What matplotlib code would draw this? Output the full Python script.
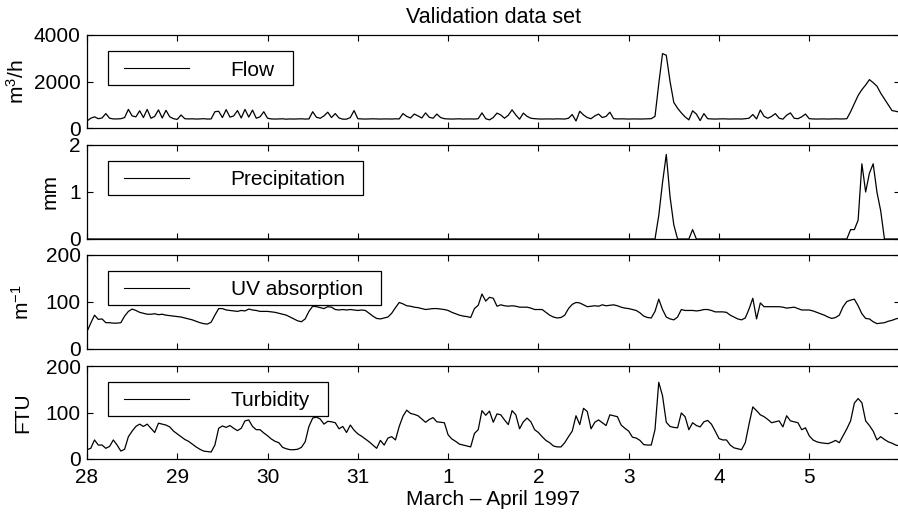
import numpy as np
import matplotlib
matplotlib.use('Agg')
import matplotlib.pyplot as plt
from matplotlib.patches import Rectangle

plt.rcParams['font.family'] = ['Liberation Sans', 'DejaVu Sans']
plt.rcParams['font.size'] = 15
plt.rcParams['mathtext.fontset'] = 'custom'
plt.rcParams['mathtext.rm'] = 'Liberation Sans'
plt.rcParams['mathtext.it'] = 'Liberation Sans'
plt.rcParams['mathtext.default'] = 'regular'

# hourly samples starting 28 March 00:00
flow = [
    300, 420, 480, 400, 430, 620, 420, 390, 390, 400, 450, 800, 520, 480, 740, 450, 800, 420, 500, 780, 430, 760, 480, 400,
    370, 560, 400, 390, 395, 385, 390, 400, 385, 390, 700, 720, 450, 790, 470, 520, 750, 430, 800, 470, 770, 420, 480, 700,
    420, 390, 385, 390, 395, 380, 390, 385, 390, 395, 385, 390, 700, 460, 420, 520, 680, 450, 620, 430, 380, 380, 450, 750,
    400, 390, 385, 390, 395, 390, 385, 390, 390, 385, 395, 390, 620, 500, 430, 600, 520, 430, 650, 460, 420, 600, 450, 400,
    390, 385, 390, 395, 385, 390, 390, 385, 400, 650, 400, 350, 450, 640, 560, 420, 550, 780, 560, 380, 640, 500, 420, 400,
    390, 385, 390, 390, 385, 395, 390, 385, 420, 580, 300, 720, 560, 450, 400, 520, 600, 450, 500, 680, 400, 390, 395, 390,
    385, 390, 390, 385, 390, 395, 400, 500, 1900, 3200, 3130, 2000, 1100, 850, 650, 480, 350, 740, 600, 320, 620, 400, 390, 385,
    390, 395, 390, 385, 390, 390, 385, 400, 420, 580, 390, 770, 500, 420, 500, 620, 420, 380, 550, 650, 420, 400, 480, 600,
    400, 390, 385, 390, 390, 385, 390, 395, 390, 390, 400, 700, 1050, 1400, 1650, 1850, 2080, 1950, 1800, 1500, 1250, 1000, 750, 720,
    680,
]

precip = [
    0, 0, 0, 0, 0, 0, 0, 0, 0, 0, 0, 0, 0, 0, 0, 0, 0, 0, 0, 0, 0, 0, 0, 0,
    0, 0, 0, 0, 0, 0, 0, 0, 0, 0, 0, 0, 0, 0, 0, 0, 0, 0, 0, 0, 0, 0, 0, 0,
    0, 0, 0, 0, 0, 0, 0, 0, 0, 0, 0, 0, 0, 0, 0, 0, 0, 0, 0, 0, 0, 0, 0, 0,
    0, 0, 0, 0, 0, 0, 0, 0, 0, 0, 0, 0, 0, 0, 0, 0, 0, 0, 0, 0, 0, 0, 0, 0,
    0, 0, 0, 0, 0, 0, 0, 0, 0, 0, 0, 0, 0, 0, 0, 0, 0, 0, 0, 0, 0, 0, 0, 0,
    0, 0, 0, 0, 0, 0, 0, 0, 0, 0, 0, 0, 0, 0, 0, 0, 0, 0, 0, 0, 0, 0, 0, 0,
    0, 0, 0, 0, 0, 0, 0, 0, 0.5, 1.2, 1.8, 0.9, 0.3, 0, 0, 0, 0, 0.2, 0, 0, 0, 0, 0, 0,
    0, 0, 0, 0, 0, 0, 0, 0, 0, 0, 0, 0, 0, 0, 0, 0, 0, 0, 0, 0, 0, 0, 0, 0,
    0, 0, 0, 0, 0, 0, 0, 0, 0, 0, 0, 0.2, 0.2, 0.4, 1.6, 1.0, 1.4, 1.6, 1.0, 0.6, 0, 0, 0, 0,
    0,
]

uv = [
    37, 55, 72, 63, 64, 56, 56, 55, 55, 56, 70, 80, 85, 82, 78, 76, 74, 74, 75, 73, 74, 72, 71, 70,
    69, 68, 66, 64, 62, 59, 56, 54, 53, 57, 72, 86, 86, 83, 82, 81, 80, 82, 81, 85, 83, 82, 80, 80,
    80, 79, 78, 76, 74, 72, 68, 64, 60, 58, 64, 80, 91, 90, 88, 86, 90, 89, 84, 83, 84, 83, 84, 83,
    82, 83, 82, 76, 70, 65, 64, 66, 68, 76, 88, 99, 96, 92, 91, 89, 88, 86, 84, 85, 86, 86, 85, 84,
    82, 78, 75, 72, 70, 69, 67, 86, 93, 117, 102, 110, 108, 91, 94, 92, 91, 92, 91, 89, 89, 89, 87, 84,
    84, 84, 78, 72, 68, 66, 67, 72, 86, 95, 99, 98, 94, 90, 91, 92, 91, 94, 92, 93, 94, 92, 89, 87,
    86, 84, 82, 77, 70, 67, 66, 80, 106, 84, 68, 64, 62, 68, 84, 82, 82, 82, 81, 82, 84, 84, 82, 79,
    79, 79, 78, 72, 68, 64, 62, 66, 85, 108, 64, 98, 90, 90, 90, 90, 90, 89, 87, 88, 89, 86, 83, 83,
    83, 81, 78, 75, 72, 68, 65, 67, 72, 90, 101, 104, 106, 92, 75, 65, 64, 58, 54, 55, 56, 59, 61, 64,
    66,
]

turbidity = [
    20, 23, 41, 30, 30, 23, 27, 41, 30, 17, 21, 48, 60, 70, 75, 70, 75, 66, 57, 77, 75, 73, 69, 60,
    54, 48, 42, 38, 32, 26, 21, 17, 16, 15, 30, 66, 71, 68, 72, 66, 61, 66, 82, 84, 70, 63, 63, 56,
    50, 43, 38, 35, 25, 22, 20, 20, 21, 25, 37, 70, 88, 90, 86, 75, 81, 80, 78, 65, 70, 57, 73, 62,
    54, 49, 43, 37, 30, 23, 40, 30, 45, 48, 41, 70, 92, 105, 98, 96, 93, 86, 79, 85, 89, 80, 79, 78,
    52, 43, 38, 32, 30, 28, 26, 55, 63, 104, 94, 103, 79, 97, 95, 84, 74, 104, 95, 65, 80, 88, 80, 63,
    57, 48, 40, 35, 28, 26, 26, 35, 48, 60, 93, 74, 109, 102, 65, 79, 84, 78, 72, 95, 93, 91, 73, 66,
    60, 47, 45, 40, 31, 30, 30, 63, 165, 136, 79, 70, 68, 67, 99, 91, 63, 78, 72, 69, 80, 83, 75, 60,
    44, 41, 41, 30, 24, 22, 20, 35, 75, 112, 104, 95, 91, 85, 78, 80, 82, 69, 93, 82, 80, 78, 63, 67,
    50, 41, 37, 35, 34, 33, 36, 40, 35, 50, 65, 82, 120, 130, 121, 82, 72, 60, 41, 48, 42, 37, 34, 30,
    28,
]

day_labels = ['28', '29', '30', '31', '1', '2', '3', '4', '5']

series = [
    ('Flow', flow, r'm$^3$/h', [0, 2000, 4000]),
    ('Precipitation', precip, 'mm', [0, 1, 2]),
    ('UV absorption', uv, r'm$^{-1}$', [0, 100, 200]),
    ('Turbidity', turbidity, 'FTU', [0, 100, 200]),
]

# panel edges in pixels (top, bottom) on a 898x520 canvas
W, H = 898, 520
rows = [(35, 128), (145, 239), (255, 349), (366, 459)]
left_px, right_px = 87, 899.5
# right edge of each rotated y label, in axes fraction
ylabel_x = [-0.0727, -0.0333, -0.0665, -0.0677]


def boxed_label(ax, text):
    """Framed legend box with a line sample, drawn in pixel offsets from the axes corner."""
    fig = ax.figure
    bb = ax.get_window_extent()

    def frac(px, py):
        return px / bb.width, 1 - py / bb.height

    x0, top, height = 20.7, 16, 34
    yc = top + height / 2
    lx0, ly = frac(37, yc)
    lx1, _ = frac(102, yc)
    tx, ty = frac(143.7, yc + 7.5)
    t = ax.text(tx, ty, text, transform=ax.transAxes, ha='left', va='baseline', zorder=6)
    tb = t.get_window_extent(fig.canvas.get_renderer())
    width = tb.x1 - bb.x0 + 17.7 - x0
    rx, ry = frac(x0, top + height)
    ax.add_patch(Rectangle((rx, ry), width / bb.width, height / bb.height,
                           transform=ax.transAxes, facecolor='white',
                           edgecolor='black', lw=0.9, zorder=4))
    ax.plot([lx0, lx1], [ly, ly], color='black', lw=0.8,
            transform=ax.transAxes, zorder=5)


fig = plt.figure(figsize=(W / 100, H / 100), dpi=100)
axes = []
for (top, bottom) in rows:
    ax = fig.add_axes([left_px / W, 1 - bottom / H,
                       (right_px - left_px) / W, (bottom - top) / H])
    axes.append(ax)

for k, (ax, (name, values, unit, yticks)) in enumerate(zip(axes, series)):
    hours = np.arange(len(values)) / 24
    ax.plot(hours, values, color='black', lw=0.9)
    ax.set_xlim(0, 9)
    ax.set_ylim(yticks[0], yticks[-1])
    ax.set_yticks(yticks)
    ax.set_xticks(range(len(day_labels)))
    ax.tick_params(direction='in', top=True, right=True, length=4, width=0.8)
    ax.tick_params(axis='x', pad=6.5)
    ax.tick_params(axis='y', pad=4.5)
    for sp in ax.spines.values():
        sp.set_linewidth(0.9)
    ax.set_ylabel(unit)
    ax.yaxis.set_label_coords(ylabel_x[k], 0.5)
    if k < len(axes) - 1:
        ax.set_xticklabels([])
    else:
        ax.set_xticklabels(day_labels)
        ax.set_xlabel('March \u2013 April 1997', labelpad=2)

axes[0].set_title('Validation data set', fontsize=15.5, pad=8.5)

fig.canvas.draw()
for ax, (name, *_rest) in zip(axes, series):
    boxed_label(ax, name)

fig.savefig('out.png', dpi=100)
